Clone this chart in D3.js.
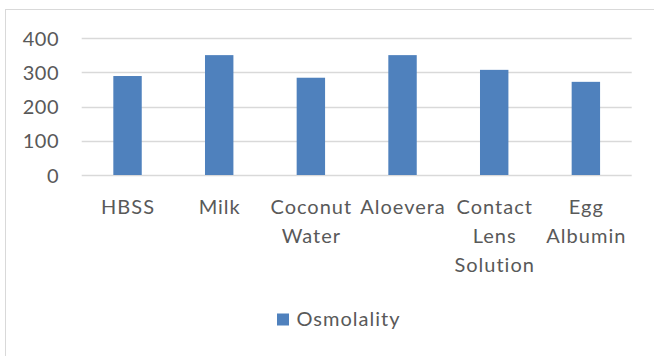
<!DOCTYPE html>
<html>
<head>
<meta charset="utf-8">
<script src="https://cdn.jsdelivr.net/npm/d3@7"></script>
<style>
  html, body { margin: 0; padding: 0; background: #fff; }
  svg { display: block; }
  text { font-family: Lato, "Open Sans", sans-serif; fill: #595959; }
</style>
</head>
<body>
<svg id="chart" width="654" height="356"></svg>
<script>
const categories = ["HBSS", "Milk", "Coconut Water", "Aloevera", "Contact Lens Solution", "Egg Albumin"];
const osmolality = [289, 350, 284, 350, 307, 272];
const yTicks = [0, 100, 200, 300, 400];
const seriesName = "Osmolality";

const svg = d3.select("#chart");
const W = 654, H = 356;
const plot = { left: 81.7, right: 631.7, top: 38, bottom: 175 };

// chart frame
svg.append("rect")
  .attr("x", 5.5).attr("y", 9.5)
  .attr("width", W + 10).attr("height", H + 10)
  .attr("fill", "#fff").attr("stroke", "#d9d9d9").attr("stroke-width", 1);

const x = d3.scaleBand()
  .domain(categories)
  .range([plot.left, plot.right])
  .paddingInner(0.69)
  .paddingOuter(0.345);

const y = d3.scaleLinear()
  .domain([0, 400])
  .range([plot.bottom, plot.top]);

// gridlines
svg.append("g")
  .selectAll("line")
  .data(yTicks)
  .join("line")
  .attr("x1", plot.left).attr("x2", plot.right)
  .attr("y1", d => Math.round(y(d)) + 0.5)
  .attr("y2", d => Math.round(y(d)) + 0.5)
  .attr("stroke", "#d9d9d9").attr("stroke-width", 1.5);

// y axis labels
const yAxis = d3.axisLeft(y).tickValues(yTicks).tickSize(0).tickPadding(0);
const gy = svg.append("g").attr("transform", `translate(59,0)`).call(yAxis);
gy.select(".domain").remove();
gy.selectAll("text")
  .attr("font-size", 20)
  .attr("font-family", "Lato, 'Open Sans', sans-serif")
  .attr("fill", "#595959")
  .attr("letter-spacing", "0.5px")
  .attr("dy", "0.36em");

// bars
svg.append("g")
  .selectAll("rect")
  .data(categories.map((c, i) => ({ c, v: osmolality[i] })))
  .join("rect")
  .attr("x", d => x(d.c))
  .attr("width", x.bandwidth())
  .attr("y", d => y(d.v))
  .attr("height", d => y(0) - y(d.v))
  .attr("fill", "#4f81bd");

// x labels (wrapped, one word per line)
const gx = svg.append("g");
categories.forEach(c => {
  const cx = x(c) + x.bandwidth() / 2 + 0.5;
  const t = gx.append("text")
    .attr("text-anchor", "middle")
    .attr("font-size", 20)
    .attr("letter-spacing", "1px")
    .attr("x", cx)
    .attr("y", 214.3);
  c.split(" ").forEach((w, i) => {
    t.append("tspan").attr("x", cx).attr("y", 214.3 + i * 29).text(w);
  });
});

// legend
const lg = svg.append("g");
lg.append("rect")
  .attr("x", 277).attr("y", 313.5)
  .attr("width", 12).attr("height", 12)
  .attr("fill", "#4f81bd");
lg.append("text")
  .attr("x", 296.5).attr("y", 325.7)
  .attr("font-size", 20)
  .attr("letter-spacing", "1px")
  .text(seriesName);
</script>
</body>
</html>
